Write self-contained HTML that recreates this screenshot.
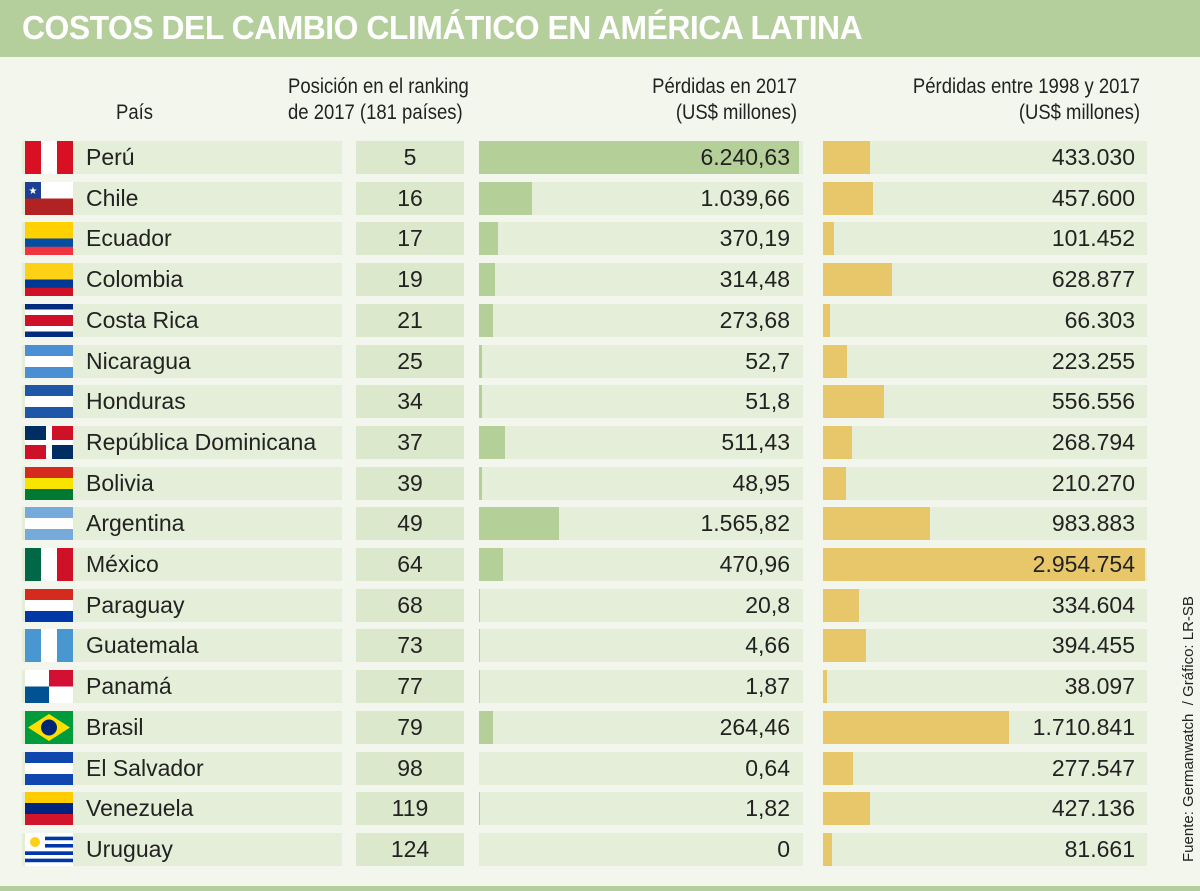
<!DOCTYPE html>
<html><head><meta charset="utf-8"><style>
body{margin:0;width:1200px;height:891px;background:#f3f6ec;font-family:"Liberation Sans Narrow","Liberation Sans",sans-serif;overflow:hidden;position:relative}
#title{position:absolute;left:0;top:0;width:1200px;height:57px;background:#b5cf9c}
#title span{position:absolute;left:22px;top:9px;color:#fff;font-weight:bold;font-size:33px;font-family:"Liberation Sans",sans-serif;letter-spacing:-0.5px;transform:scaleX(0.966);transform-origin:left}
.h{position:absolute;font-size:21px;color:#222;line-height:26px;transform:scaleX(0.88)}
.r{position:absolute;height:33px}
.t{position:absolute;font-size:23px;color:#222;line-height:33px}
#bottom{position:absolute;left:0;top:886px;width:1200px;height:5px;background:#b5cf9c}
#src{position:absolute;left:1180px;top:862px;transform:rotate(-90deg);transform-origin:left top;font-size:15px;color:#222;white-space:nowrap}
</style></head><body>
<div id="title"><span>COSTOS DEL CAMBIO CLIMÁTICO EN AMÉRICA LATINA</span></div>
<div class="h" style="left:116px;top:100px;transform-origin:left">País</div>
<div class="h" style="left:288px;top:74px;transform-origin:left">Posición en el ranking<br>de 2017 (181 países)</div>
<div class="h" style="left:600px;top:74px;width:197px;text-align:right;transform-origin:right">Pérdidas en 2017<br>(US$ millones)</div>
<div class="h" style="left:840px;top:74px;width:300px;text-align:right;transform-origin:right">Pérdidas entre 1998 y 2017<br>(US$ millones)</div>
<div id="rows"></div>
<div id="bottom"></div>
<div id="src">Fuente: Germanwatch &nbsp;/ Gráfico: LR-SB</div>
<script>
const countries=["Perú","Chile","Ecuador","Colombia","Costa Rica","Nicaragua","Honduras","República Dominicana","Bolivia","Argentina","México","Paraguay","Guatemala","Panamá","Brasil","El Salvador","Venezuela","Uruguay"];
const ranks=[5,16,17,19,21,25,34,37,39,49,64,68,73,77,79,98,119,124];
const loss2017=[6240.63,1039.66,370.19,314.48,273.68,52.7,51.8,511.43,48.95,1565.82,470.96,20.8,4.66,1.87,264.46,0.64,1.82,0];
const loss2017Labels=["6.240,63","1.039,66","370,19","314,48","273,68","52,7","51,8","511,43","48,95","1.565,82","470,96","20,8","4,66","1,87","264,46","0,64","1,82","0"];
const lossTotal=[433030,457600,101452,628877,66303,223255,556556,268794,210270,983883,2954754,334604,394455,38097,1710841,277547,427136,81661];
const lossTotalLabels=["433.030","457.600","101.452","628.877","66.303","223.255","556.556","268.794","210.270","983.883","2.954.754","334.604","394.455","38.097","1.710.841","277.547","427.136","81.661"];
const flags=[
 ['v',['#d91023','#fff','#d91023']],['chile'],['h',['#ffd100','#ffd100','#034ea2','#ef3340']],['h',['#fcd116','#fcd116','#003893','#ce1126']],
 ['h',['#002b7f','#fff','#ce1126','#ce1126','#fff','#002b7f']],['h',['#4a8fd4','#fff','#4a8fd4']],['h',['#1f57a8','#fff','#1f57a8']],['dr'],
 ['h',['#d52b1e','#f9e300','#007934']],['h',['#75aadb','#fff','#75aadb']],['v',['#006847','#fff','#ce1126']],['h',['#d52b1e','#fff','#0038a8']],
 ['v',['#4997d0','#fff','#4997d0']],['pa'],['br'],['h',['#0f47af','#fff','#0f47af']],['h',['#ffcc00','#00247d','#cf142b']],['uy']];
const x2=v=>v/6240.63*320, x3=v=>v/2954754*322;
const pitch=40.7,top0=141;
const root=document.getElementById('rows');
function box(l,t,w,h,c){const d=document.createElement('div');d.className='r';d.style.cssText=`left:${l}px;top:${t}px;width:${w}px;height:${h}px;background:${c}`;root.appendChild(d);return d;}
function flagSvg(f){
 let s='<svg width="48" height="33" viewBox="0 0 48 33">';
 if(f[0]=='v'){f[1].forEach((c,i)=>s+=`<rect x="${i*16}" y="0" width="16.5" height="33" fill="${c}"/>`);}
 else if(f[0]=='h'){const n=f[1].length;f[1].forEach((c,i)=>s+=`<rect x="0" y="${i*33/n}" width="48" height="${33/n+0.5}" fill="${c}"/>`);}
 else if(f[0]=='chile'){s+='<rect width="48" height="16.5" fill="#fff"/><rect y="16.5" width="48" height="16.5" fill="#b22222"/><rect width="16" height="16.5" fill="#1c3f94"/><text x="8" y="12" font-size="10" fill="#fff" text-anchor="middle">★</text>';}
 else if(f[0]=='dr'){s+='<rect width="48" height="33" fill="#fff"/><rect width="21" height="14" fill="#002d62"/><rect x="27" y="19" width="21" height="14" fill="#002d62"/><rect x="27" width="21" height="14" fill="#ce1126"/><rect y="19" width="21" height="14" fill="#ce1126"/>';}
 else if(f[0]=='pa'){s+='<rect width="48" height="33" fill="#fff"/><rect x="24" width="24" height="16.5" fill="#d21034"/><rect y="16.5" width="24" height="16.5" fill="#005293"/>';}
 else if(f[0]=='br'){s+='<rect width="48" height="33" fill="#009b3a"/><polygon points="24,3 45,16.5 24,30 3,16.5" fill="#fedf00"/><circle cx="24" cy="16.5" r="8" fill="#002776"/>';}
 else if(f[0]=='uy'){for(let i=0;i<9;i++)s+=`<rect y="${i*33/9}" width="48" height="${33/9}" fill="${i%2?'#0038a8':'#fff'}"/>`;s+='<rect width="20" height="18" fill="#fff"/><circle cx="10" cy="9" r="5" fill="#fcd116"/>';}
 return s+'</svg>';
}
countries.forEach((c,i)=>{
 const t=top0+i*pitch;
 const cb=box(22,t,320,33,'#e5eed8');
 
 
 const fl=box(25,t,48,33,'transparent');fl.innerHTML=flagSvg(flags[i]);
 
 
 const nm=document.createElement('div');nm.className='t';nm.style.cssText=`left:86px;top:${t}px`;nm.textContent=c;root.appendChild(nm);
 
 
 const rb=box(356,t,108,33,'#dce8cc');rb.className='r t';rb.style.textAlign='center';rb.textContent=ranks[i];
 
 
 const b2bg=box(479,t,324,33,'#e5eed8');
 
 
 const b2=box(479,t,x2(loss2017[i]),33,'#b5cf98');
 
 
 const l2=document.createElement('div');l2.className='t';l2.style.cssText=`left:600px;top:${t}px;width:190px;text-align:right`;l2.textContent=loss2017Labels[i];root.appendChild(l2);
 
 
 const b3bg=box(823,t,324,33,'#e5eed8');
 
 
 const b3=box(823,t,x3(lossTotal[i]),33,'#e8c76a');
 
 
 const l3=document.createElement('div');l3.className='t';l3.style.cssText=`left:900px;top:${t}px;width:235px;text-align:right`;l3.textContent=lossTotalLabels[i];root.appendChild(l3);
 
 
});
</script>
</body></html>
